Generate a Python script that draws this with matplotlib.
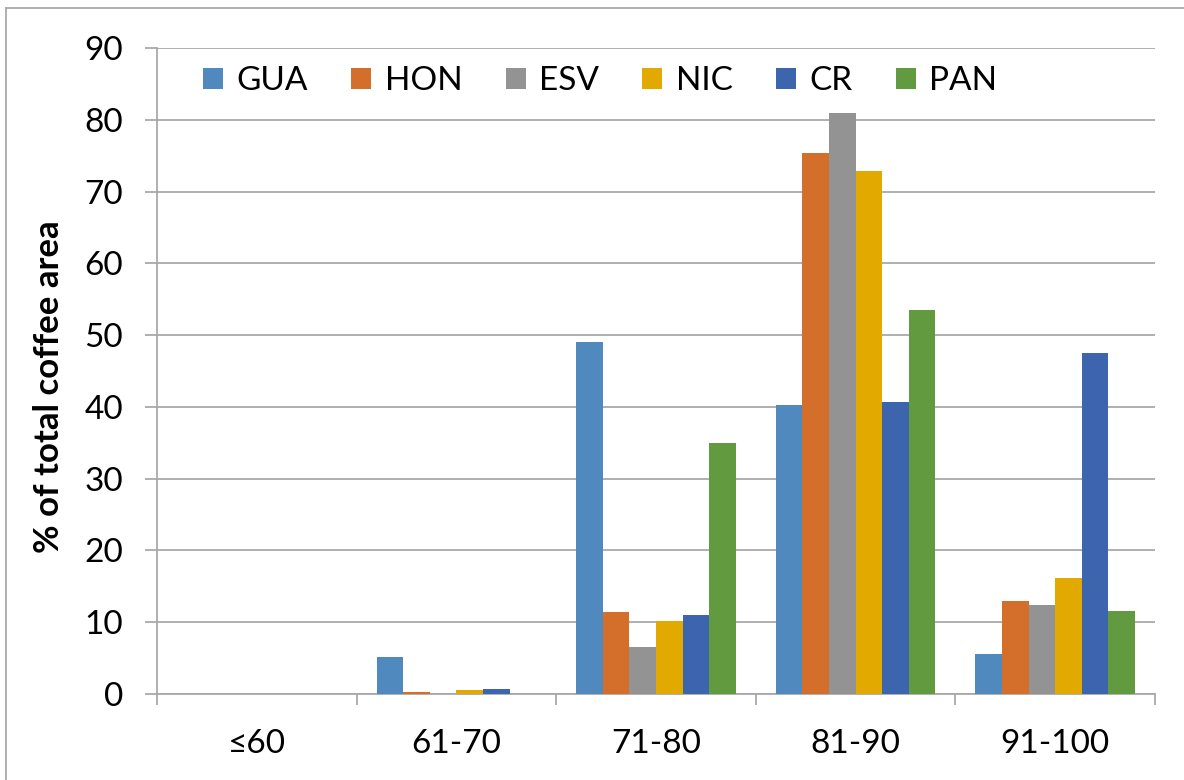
import matplotlib
matplotlib.use("Agg")
import matplotlib.pyplot as plt
import numpy as np
from matplotlib.patches import Patch
from matplotlib.lines import Line2D

plt.rcParams['font.family'] = ['Lato', 'DejaVu Sans']

categories = ["≤60", "61-70", "71-80", "81-90", "91-100"]
series_names = ["GUA", "HON", "ESV", "NIC", "CR", "PAN"]
gua = [0.0, 5.1, 49.0, 40.3, 5.6]
hon = [0.0, 0.3, 11.4, 75.4, 13.0]
esv = [0.0, 0.0, 6.5, 81.0, 12.4]
nic = [0.0, 0.6, 10.2, 72.9, 16.2]
cr = [0.0, 0.7, 11.0, 40.7, 47.5]
pan = [0.0, 0.0, 34.9, 53.5, 11.6]
series_values = [gua, hon, esv, nic, cr, pan]
colors = ["#4F89BE", "#D36E2B", "#939393", "#E2AA00", "#3D65AE", "#629A3F"]
y_ticks = list(range(0, 100, 10))

grid_gray = "#A9A9A9"

fig = plt.figure(figsize=(11.84, 7.80), dpi=100)
ax = fig.add_axes([157 / 1184, 1 - 694 / 780, (1155 - 157) / 1184, (694 - 48) / 780])

x = np.arange(len(categories))
n = len(series_names)
w = 0.8 / n
for i, (name, vals, col) in enumerate(zip(series_names, series_values, colors)):
    ax.bar(x + (i - (n - 1) / 2) * w, vals, width=w, color=col, label=name,
           linewidth=0, zorder=3)

ax.set_xlim(-0.5, len(categories) - 0.5)
ax.set_ylim(0, 90)
ax.set_yticks(y_ticks)
ax.set_yticklabels([str(t) for t in y_ticks])
ax.yaxis.grid(True, color=grid_gray, linewidth=1.3, zorder=0)
ax.set_axisbelow(True)

# category labels at centres, tick marks at category boundaries
ax.set_xticks(x)
ax.set_xticklabels(categories)
ax.set_xticks(np.arange(-0.5, len(categories), 1.0), minor=True)
ax.tick_params(axis='x', which='major', length=0, pad=25, labelsize=24)
ax.tick_params(axis='x', which='minor', length=8, width=1.3, color=grid_gray)
ax.tick_params(axis='y', which='major', length=8.5, width=1.3, color=grid_gray,
               pad=16, labelsize=24)

for side in ("top", "right"):
    ax.spines[side].set_visible(False)
for side in ("left", "bottom"):
    ax.spines[side].set_color(grid_gray)
    ax.spines[side].set_linewidth(1.3)

ax.set_ylabel("% of total coffee area", fontsize=25, fontweight='bold', labelpad=14)
ax.yaxis.label.set_y(0.475)

handles = [Patch(facecolor=c, edgecolor='none') for c in colors]
leg = ax.legend(handles, series_names, ncol=6, loc='upper left',
                bbox_to_anchor=(0.028, 1.0), frameon=False, fontsize=24,
                handlelength=0.6, handleheight=0.6, handletextpad=0.4,
                columnspacing=1.3, borderaxespad=0.15)

# outer chart frame
fig.add_artist(Line2D([6 / 1184, 1.0], [1 - 8 / 780, 1 - 8 / 780],
                      transform=fig.transFigure, color="#AAAAAA", linewidth=1.3))
fig.add_artist(Line2D([6 / 1184, 6 / 1184], [0.0, 1 - 8 / 780],
                      transform=fig.transFigure, color="#AAAAAA", linewidth=1.3))

fig.savefig("out.png", dpi=100, facecolor="white")
